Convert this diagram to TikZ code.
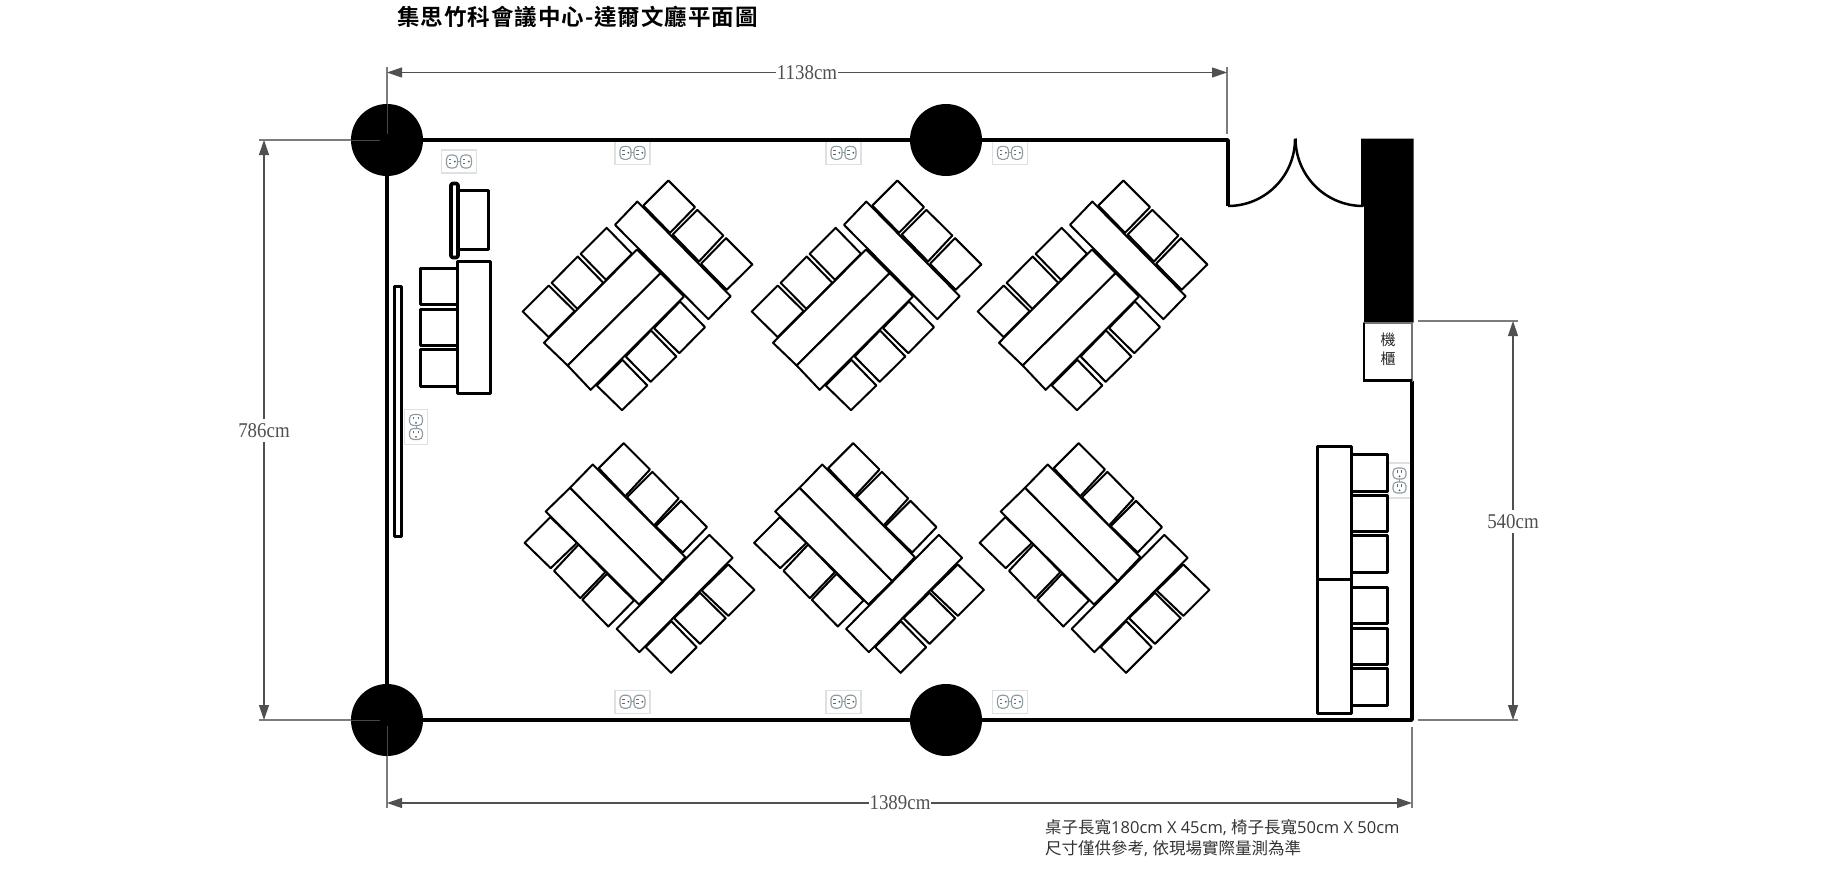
\documentclass[tikz,border=0pt]{standalone}
\usepackage{fontspec}
\setmainfont{Liberation Serif}
\newfontfamily\cjk{Noto Sans CJK TC}
\newfontfamily\latn{Open Sans}
\newfontfamily\dimf[FakeStretch=0.9]{Liberation Serif}
\newfontfamily\cjkb[LetterSpace=4.4]{Noto Sans CJK TC Bold}
\usetikzlibrary{arrows.meta}
\definecolor{dimc}{HTML}{505050}
\definecolor{outc}{HTML}{8C9CA3}
\tikzset{
  wall/.style={draw=black,line width=3.4pt,line join=round},
  fur/.style={draw=black,fill=white,line width=2pt,line join=round},
  furb/.style={draw=black,fill=white,line width=3pt,line join=round},
  pillar/.style={fill=black,draw=none},
  dimline/.style={draw=dimc,line width=1.1pt,{Triangle[length=15pt,width=10pt]}-{Triangle[length=15pt,width=10pt]}},
  extline/.style={draw=dimc!75,line width=1.2pt},
  extin/.style={draw=black!72,line width=1pt},
  dimtext/.style={font=\dimf\fontsize{21}{22}\selectfont,text=dimc,fill=white,inner sep=1pt,minimum height=23pt},
  notetext/.style={font=\fontsize{16.5}{21}\selectfont,text=black!80,anchor=west,inner sep=0pt},
  outlet/.pic={
    \draw[draw=black!12,fill=white,line width=1.2pt] (-11.5,-17.5) rectangle (11.5,17.5);
    \draw[draw=outc,line width=.9pt] (0,-7) -- (0,7);
    \foreach \c in {-7,7}{
      \draw[draw=outc,fill=white,line width=1.1pt,rounded corners=4pt] (-6.5,\c-5.5) rectangle (6.5,\c+5.5);
      \fill[black!60] (-2.6,\c-3.5) rectangle (-1.6,\c-.7);
      \fill[black!60] (1.6,\c-3.5) rectangle (2.6,\c-.7);
      \fill[black!65] (0,\c+2.8) circle (1);
    }
  }
}
\newcommand{\quadr}[8]{\draw[fur] (#1,#2) -- (#3,#4) -- (#5,#6) -- (#7,#8) -- cycle;}
\newcommand{\groupA}[2]{\begin{scope}[shift={(#1,#2)},x=0.33333pt,y=-0.33333pt]
  \quadr{505}{60}{430}{135}{510}{217}{585}{140}
  \quadr{592}{148}{518}{222}{597}{303}{670}{225}
  \quadr{678}{233}{603}{310}{680}{388}{757}{312}
  \quadr{320}{202}{242}{280}{318}{358}{396}{280}
  \quadr{233}{288}{155}{367}{232}{445}{310}{367}
  \quadr{146}{375}{68}{453}{146}{530}{224}{452}
  \quadr{540}{423}{615}{500}{538}{578}{462}{503}
  \quadr{453}{510}{529}{588}{452}{664}{377}{588}
  \quadr{367}{598}{442}{675}{366}{749}{290}{675}
  \quadr{132}{547}{203}{615}{482}{338}{411}{267}
  \quadr{203}{615}{272}{688}{552}{408}{482}{338}
  \quadr{412}{123}{345}{193}{625}{476}{692}{407}
\end{scope}}
\newcommand{\groupB}[2]{\begin{scope}[shift={(#1,#2)},x=0.33333pt,y=-0.33333pt]
  \quadr{371}{38}{296}{113}{376}{197}{450}{117}
  \quadr{457}{124}{381}{200}{462}{285}{536}{204}
  \quadr{543}{211}{467}{287}{548}{366}{621}{290}
  \quadr{151}{260}{74}{337}{152}{413}{231}{337}
  \quadr{236}{342}{162}{421}{241}{503}{316}{425}
  \quadr{321}{430}{247}{508}{325}{588}{402}{510}
  \quadr{685}{402}{763}{478}{685}{556}{605}{480}
  \quadr{600}{487}{677}{563}{600}{640}{522}{563}
  \quadr{514}{572}{590}{650}{513}{727}{437}{650}
  \quadr{278}{102}{210}{172}{488}{452}{556}{380}
  \quadr{210}{172}{137}{243}{417}{522}{488}{452}
  \quadr{628}{313}{698}{382}{418}{665}{350}{595}
\end{scope}}
\begin{document}
\begin{tikzpicture}[x=1pt,y=-1pt]
\useasboundingbox (0,-0.5) rectangle (1828,893.5);
% outlets
\pic[rotate=90] at (459,161) {outlet};
\foreach \xx in {632.5,843.5,1010}{
  \pic[rotate=90] at (\xx,152.3) {outlet};
  \pic[rotate=90] at (\xx,701.2) {outlet};
}
\pic at (416,426.5) {outlet};
\pic at (1399.5,480) {outlet};
% walls
\draw[wall] (1412,380) -- (1412,719.5) -- (387,719.5) -- (387,139.5) -- (1228,139.5) -- (1228,205.5);
\fill[black] (1361,138) -- (1413.5,138) -- (1413.5,322) -- (1364,322) -- (1364,206) -- (1361,206) -- cycle;
\draw[draw=black,line width=2.5pt] (1228,205.5) arc[start angle=90,end angle=0,radius=67];
\draw[draw=black,line width=2.5pt] (1363,205.5) arc[start angle=90,end angle=180,radius=67.5];
\draw[draw=black!55,fill=white,line width=2pt] (1364,322) rectangle (1412,380);
\draw[draw=black,line width=2.5pt] (1364,322) -- (1364,380) -- (1412,380);
\node[font=\cjk\fontsize{15}{15}\selectfont,text=black!85,inner sep=0pt] (cab1) at (1388,339.5) {機};
\node[font=\cjk\fontsize{15}{15}\selectfont,text=black!85,inner sep=0pt] (cab2) at (1388,358.5) {櫃};
% pillars
\foreach \px/\py in {387/139.5,946/139.5,387/719.5,946/719.5}
  \fill[pillar] (\px,\py) circle (36);
% furniture groups
\groupA{500}{160}
\groupA{729}{160}
\groupA{955}{160}
\groupB{500}{430}
\groupB{729.5}{430}
\groupB{955}{430}
% left furniture
\draw[furb] (458,190) rectangle (488,249);
\draw[furb,line width=3.6pt,rounded corners=1.5pt] (451,183) rectangle (458,257);
\foreach \a/\b in {268/304,309/345,349/386} \draw[furb] (420.7,\a) rectangle (457.5,\b);
\draw[furb] (457.5,261) rectangle (490.7,393);
\draw[furb] (394.5,286) rectangle (401.5,536);
% right furniture
\foreach \a/\b in {454/491,495/531,535/572,587/623,628/664,668/705} \draw[furb] (1351,\a) rectangle (1387.5,\b);
\draw[furb] (1317.5,446) rectangle (1351,579);
\draw[furb] (1317.5,579) rectangle (1351,712.5);
% dimensions
\coordinate (a1) at (387,72); \coordinate (a2) at (1227,72);
\coordinate (b1) at (264,139.5); \coordinate (b2) at (264,719.5);
\coordinate (c1) at (387,802.5); \coordinate (c2) at (1412,802.5);
\coordinate (d1) at (1513,320.5); \coordinate (d2) at (1513,719.5);
\draw[extline] (387,66) -- (387,103.5);
\draw[extin] (387,103.5) -- (387,133);
\draw[extline] (1227,66) -- (1227,133);
\draw[extline] (259,139.5) -- (351,139.5);
\draw[extin] (351,139.5) -- (380,139.5);
\draw[extline] (259,719.5) -- (351,719.5);
\draw[extin] (351,719.5) -- (380,719.5);
\draw[extin] (387,725) -- (387,755.5);
\draw[extline] (387,755.5) -- (387,807);
\draw[extline] (1412,726) -- (1412,807);
\draw[extline] (1418,320.5) -- (1518,320.5);
\draw[extline] (1418,719.5) -- (1518,719.5);
\draw[dimline] (a1) -- (a2);
\draw[dimline] (b1) -- (b2);
\draw[dimline] (c1) -- (c2);
\draw[dimline] (d1) -- (d2);
\node[dimtext] (t1) at (807,72) {1138cm};
\node[dimtext] (t2) at (264,430) {786cm};
\node[dimtext] (t3) at (900,802.5) {1389cm};
\node[dimtext] (t4) at (1513,521) {540cm};
% title and notes
\node[font=\cjkb\fontsize{22.5}{24}\selectfont,text=black,anchor=west,inner sep=0pt] (title) at (397,16.5) {集思竹科會議中心-達爾文廳平面圖};
\node[notetext] (n1) at (1045,827) {\cjk 桌子長寬{\latn 180cm X 45cm, }椅子長寬{\latn 50cm X 50cm}};
\node[notetext] (n2) at (1045,848) {\cjk 尺寸僅供參考{\latn , }依現場實際量測為準};
\end{tikzpicture}
\end{document}
